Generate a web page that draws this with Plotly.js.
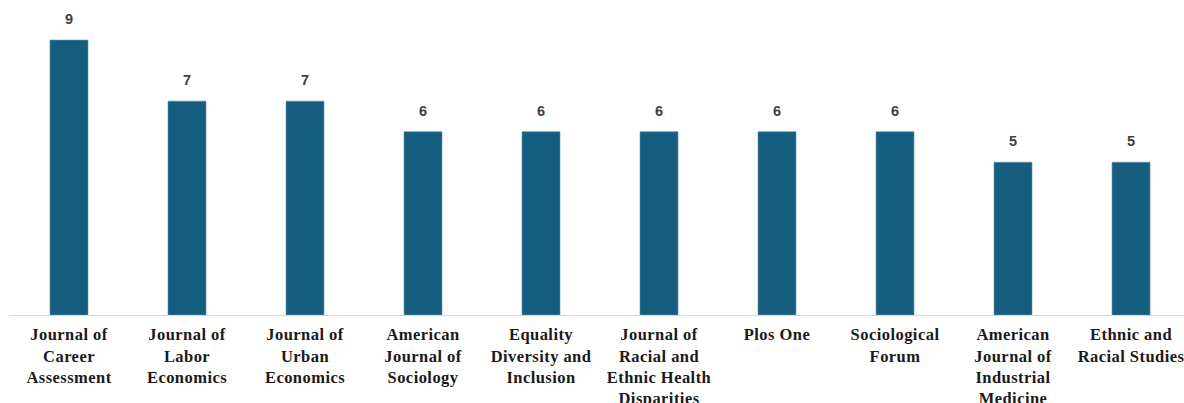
<!DOCTYPE html>
<html>
<head>
<meta charset="utf-8">
<script src="https://cdn.plot.ly/plotly-3.0.1.min.js"></script>
<style>html,body{margin:0;padding:0;background:#fff;overflow:hidden}#chart{width:1184px;height:403px}
.xtick text{letter-spacing:0.45px}</style>
</head>
<body>
<div id="chart"></div>
<script>
const categories = ["Journal of Career Assessment","Journal of Labor Economics","Journal of Urban Economics","American Journal of Sociology","Equality Diversity and Inclusion","Journal of Racial and Ethnic Health Disparities","Plos One","Sociological Forum","American Journal of Industrial Medicine","Ethnic and Racial Studies"];
const counts = [9,7,7,6,6,6,6,6,5,5];
const tickLabels = ["Journal of<br>Career<br>Assessment","Journal of<br>Labor<br>Economics","Journal of<br>Urban<br>Economics","American<br>Journal of<br>Sociology","Equality<br>Diversity and<br>Inclusion","Journal of<br>Racial and<br>Ethnic Health<br>Disparities","Plos One","Sociological<br>Forum","American<br>Journal of<br>Industrial<br>Medicine","Ethnic and<br>Racial Studies"];

const idx = categories.map((c,i)=>i);
const trace = {
  type: 'bar',
  x: idx,
  y: counts,
  width: 0.322,
  marker: {color: '#165e80', line: {color: '#5f90a8', width: 0.6}},
  hoverinfo: 'skip'
};
const annotations = idx.map((i)=>({
  x: i, y: counts[i], xref: 'x', yref: 'y',
  text: String(counts[i]), showarrow: false,
  yanchor: 'bottom', yshift: 11,
  font: {family: 'Liberation Sans, Arial, sans-serif', size: 14.5, color: '#404040', weight: 'bold'}
}));
const layout = {
  width: 1184, height: 403,
  margin: {l: 10, r: 0, t: 0, b: 88},
  paper_bgcolor: '#fff', plot_bgcolor: '#fff',
  showlegend: false,
  xaxis: {
    range: [-0.5, 9.449],
    tickvals: idx, ticktext: tickLabels,
    showgrid: false, zeroline: false,
    showline: true, linecolor: '#d9d9d9', linewidth: 1.3,
    ticks: '', tickangle: 0, ticklabelstandoff: 4,
    ticklabeloverflow: 'allow',
    tickfont: {family: 'Liberation Serif, Times New Roman, serif', size: 16.5, color: '#1a1a1a', weight: 'bold'}
  },
  yaxis: {
    range: [0, 10.31],
    visible: false, showgrid: false, zeroline: false
  },
  annotations: annotations
};
Plotly.newPlot('chart', [trace], layout, {displayModeBar: false, staticPlot: true});
</script>
</body>
</html>
